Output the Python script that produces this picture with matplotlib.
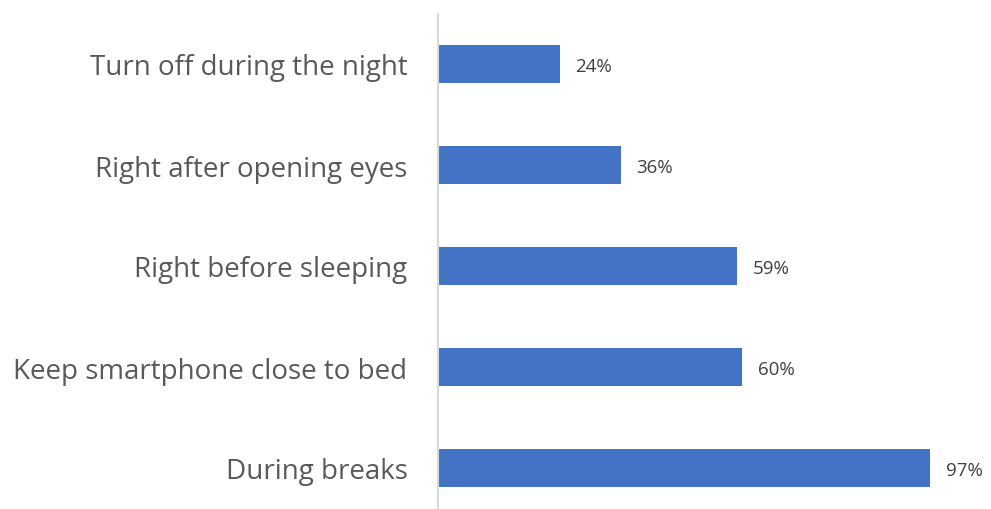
import matplotlib.pyplot as plt

categories = ["Turn off during the night", "Right after opening eyes",
              "Right before sleeping", "Keep smartphone close to bed",
              "During breaks"]
values = [24, 36, 59, 60, 97]

plt.rcParams['font.family'] = ['Open Sans', 'DejaVu Sans']

fig = plt.figure(figsize=(9.91, 5.1), dpi=100)
ax = fig.add_axes([438 / 991, -9.5 / 510, 1 - 438 / 991, 505 / 510])

y = list(range(len(categories)))
ax.barh(y, values, height=0.37, color='#4472C4')
for yi, v in zip(y, values):
    ax.text(v + 3.1, yi + 0.02, f"{v}%", va='center', ha='left',
            fontsize=13.5, color='#404040')

ax.set_xlim(0, 109)
ax.set_ylim(4.5, -0.5)
ax.set_yticks(y)
ax.set_yticklabels(categories, fontsize=20, color='#595959')
ax.tick_params(axis='y', length=0, pad=22)
ax.set_xticks([])
for side in ['top', 'right', 'bottom']:
    ax.spines[side].set_visible(False)
ax.spines['left'].set_color('#D9D9D9')
ax.spines['left'].set_linewidth(1.5)

fig.savefig('out.png', dpi=100)
